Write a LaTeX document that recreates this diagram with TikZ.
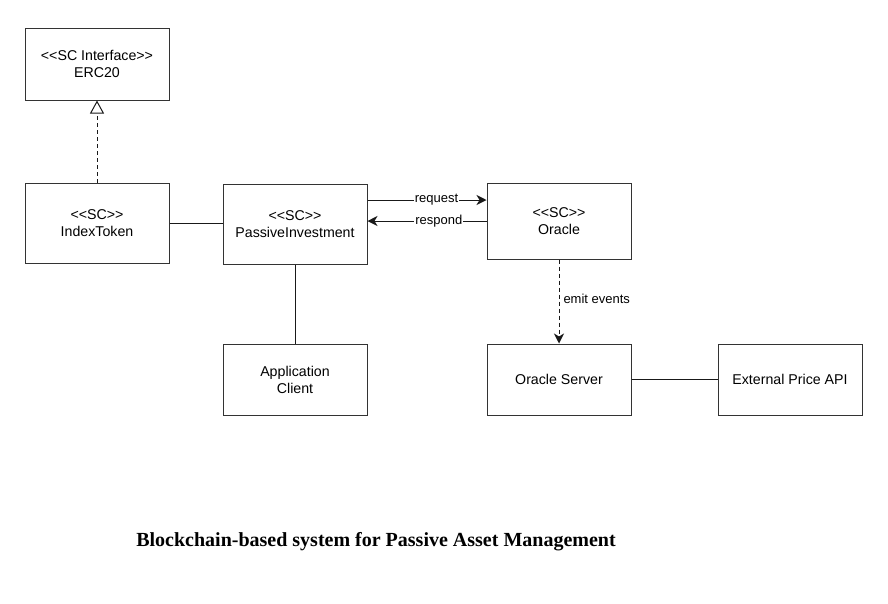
\documentclass[tikz,border=0pt]{standalone}
\usepackage{fontspec}
\setmainfont{Liberation Sans}
\newfontfamily\titlefont{Liberation Serif}
\usetikzlibrary{arrows.meta}
\newcommand{\stl}{{<}{<}}
\newcommand{\str}{{>}{>}}
\begin{document}
\begin{tikzpicture}[x=1pt,y=-1pt,
  box/.style={draw=black!80,line width=1pt,minimum width=144pt,minimum height=#1,align=center,font=\fontsize{14.2}{17}\selectfont,inner sep=0pt},
  box/.default=80pt,
  conn/.style={line width=1pt,draw=black!90},
  tip/.style={-{Stealth[width=10pt,length=10pt,inset=3pt]}},
  lbl/.style={font=\fontsize{13}{15}\selectfont,fill=white,inner sep=1pt}
]
\useasboundingbox (0,0) rectangle (888,603);
\node[box=72pt] (erc) at (97,64) {\stl SC Interface\str\\ERC20};
\node[box=80pt] (idx) at (97,223) {\stl SC\str\\IndexToken};
\node[box=80pt] (pi) at (295,224) {\stl SC\str\\PassiveInvestment};
\node[box=76pt] (orc) at (559,221) {\stl SC\str\\Oracle};
\node[box=71pt] (app) at (295,379.5) {Application\\Client};
\node[box=71pt] (os) at (559,379.5) {Oracle Server};
\node[box=71pt] (api) at (790,379.5) {External Price API};

\draw[conn,dashed,dash pattern=on 4pt off 3pt,-{Triangle[open,width=14pt,length=13pt]}] (idx.north) -- (erc.south);
\draw[conn] (idx.east) -- (pi.west |- idx.east);
\draw[conn] (pi.south) -- (app.north);
\draw[conn] (os.east) -- (api.west);
\draw[conn,tip] ([yshift=24pt]pi.east) coordinate (rq) -- (orc.west |- rq) node[lbl,pos=0.58] {request};
\draw[conn,tip] ([yshift=0pt]orc.west) coordinate (rs) -- (pi.east |- rs) node[lbl,pos=0.4] {respond};
\draw[conn,dashed,dash pattern=on 4pt off 3pt,tip] (orc.south) -- (os.north) node[lbl,pos=0.47,anchor=west,xshift=3pt] {emit events};

\node[font=\titlefont\bfseries\fontsize{20}{24}\selectfont] (title) at (376,542) {Blockchain-based system for Passive Asset Management};
\end{tikzpicture}
\end{document}
